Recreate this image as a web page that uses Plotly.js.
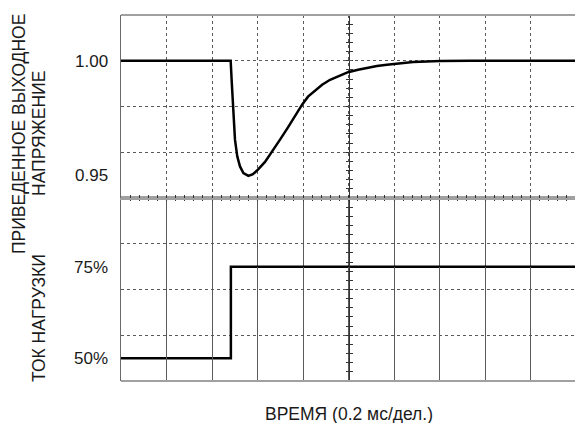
<!DOCTYPE html>
<html>
<head>
<meta charset="utf-8">
<script src="https://cdn.plot.ly/plotly-3.0.1.min.js"></script>
<style>
  html, body { margin: 0; padding: 0; overflow: hidden; background: #fff; }
  #chart { width: 576px; height: 423px; }
</style>
</head>
<body>
<div id="chart"></div>
<script>
// Time base: ms, 0.2 ms per division, 10 divisions across the screen
var timeMs = [0, 0.482, 0.487, 0.494, 0.501, 0.511, 0.523, 0.538, 0.560,
              0.580, 0.602, 0.633, 0.664, 0.699, 0.734, 0.765, 0.796, 0.822,
              0.853, 0.884, 0.919, 0.958, 0.998, 1.042, 1.081, 1.125, 1.169,
              1.226, 1.284, 1.345, 1.402, 1.534, 2.0];
// Normalised output voltage after the load step
var voltage = [1.0, 1.0, 0.9904, 0.9757, 0.9655, 0.9582, 0.9538, 0.9509, 0.9497,
               0.9504, 0.9524, 0.9558, 0.9602, 0.9655, 0.9709, 0.9760, 0.9808, 0.9843,
               0.9871, 0.9895, 0.9917, 0.9934, 0.9950, 0.9961, 0.9969, 0.9977, 0.9983,
               0.9989, 0.9994, 0.9997, 0.9999, 1.0, 1.0];

// Load current step (percent of full load)
var loadTimeMs = [0, 0.483, 2.0];
var loadCurrent = [50, 75, 75];

// Axis labels
var voltTickVals = [0.95, 1.00];
var voltTickText = ['0.95', '1.00'];
var loadTickVals = [50, 75];
var loadTickText = ['50%', '75%'];

// Graticule: 8 vertical divisions (4 per trace), 10 horizontal
var voltGrid = [0.96, 0.98, 1.00];
var loadGrid = [56.25, 68.75, 81.25];

var FONT = 'Liberation Sans, Arial, sans-serif';
var TXT = '#1a1a1a';
var GRID = '#5a5a5a';
var FRAME = '#a0a0a0';

var traces = [
  // vertical centre line carriers
  { x: [], y: [], xaxis: 'x', yaxis: 'y3', hoverinfo: 'skip' },
  { x: [], y: [], xaxis: 'x', yaxis: 'y4', hoverinfo: 'skip' },
  // signals
  { x: timeMs, y: voltage, xaxis: 'x2', yaxis: 'y', mode: 'lines',
    line: { color: '#000', width: 2.5 }, hoverinfo: 'skip' },
  { x: loadTimeMs, y: loadCurrent, xaxis: 'x', yaxis: 'y2', mode: 'lines',
    line: { color: '#000', width: 2.5, shape: 'hv' }, hoverinfo: 'skip' }
];

// time axis for one half of the screen; its line sits on the horizontal centre
function timeAxis(anchor, side) {
  return {
    anchor: anchor, side: side, range: [0, 2],
    tickmode: 'linear', tick0: 0, dtick: 0.2,
    showgrid: true, griddash: 'dot', gridcolor: GRID, gridwidth: 1,
    ticks: 'inside', ticklen: 3, tickcolor: '#333', tickwidth: 1,
    showticklabels: false, zeroline: false,
    showline: true, linecolor: FRAME, linewidth: 2,
    minor: { tick0: 0, dtick: 0.04, ticks: 'inside', ticklen: 3,
             tickcolor: '#333', tickwidth: 1, showgrid: false }
  };
}
// vertical centre line with 5 minor marks per division
function centreY(dir, over) {
  var a = { anchor: 'free', position: 0.5, domain: [0, 1],
    range: [0, 8], showline: true, linecolor: '#333', linewidth: 1.2,
    ticks: dir, ticklen: 3, tickcolor: '#333', tickwidth: 1,
    tickmode: 'linear', tick0: 0, dtick: 0.2,
    showticklabels: false, showgrid: false, zeroline: false };
  if (over) a.overlaying = over;
  return a;
}

var layout = {
  width: 576, height: 423,
  margin: { l: 121, r: 0, t: 15, b: 42 },
  paper_bgcolor: '#fff', plot_bgcolor: 'rgba(0,0,0,0)',
  showlegend: false,
  font: { family: FONT, color: TXT, size: 16 },
  xaxis: timeAxis('y2', 'top'),
  xaxis2: timeAxis('y', 'bottom'),
  yaxis: {
    domain: [0.5, 1], anchor: 'x2', range: [0.94, 1.02],
    tickmode: 'array', tickvals: voltTickVals, ticktext: voltTickText,
    ticks: '', showgrid: false, zeroline: false,
    showline: true, linecolor: '#6a6a6a', linewidth: 1.5,
    ticklabelstandoff: 8,
    tickfont: { family: FONT, size: 17, color: TXT },
    minor: { tickmode: 'array', tickvals: voltGrid, showgrid: true,
             griddash: 'dot', gridcolor: GRID, gridwidth: 1, ticks: '' }
  },
  yaxis2: {
    domain: [0, 0.5], anchor: 'x', range: [43.75, 93.75],
    tickmode: 'array', tickvals: loadTickVals, ticktext: loadTickText,
    ticks: '', showgrid: false, zeroline: false,
    showline: true, linecolor: '#6a6a6a', linewidth: 1.5,
    ticklabelstandoff: 8,
    tickfont: { family: FONT, size: 17, color: TXT },
    minor: { tickmode: 'array', tickvals: loadGrid, showgrid: true,
             griddash: 'dot', gridcolor: GRID, gridwidth: 1, ticks: '' }
  },
  yaxis3: centreY('outside'),
  yaxis4: centreY('inside', 'y3'),
  shapes: [
    { type: 'line', xref: 'paper', yref: 'paper', x0: 0, x1: 1, y0: 1, y1: 1,
      line: { color: FRAME, width: 2 } },
    { type: 'line', xref: 'paper', yref: 'paper', x0: 0, x1: 1, y0: 0, y1: 0,
      line: { color: FRAME, width: 2 } }
  ],
  annotations: [
    { text: 'ПРИВЕДЕННОЕ ВЫХОДНОЕ', xref: 'paper', yref: 'paper',
      x: (19 - 121) / 455, y: (381 - 134) / 366, textangle: -90,
      xanchor: 'center', yanchor: 'middle', showarrow: false,
      font: { family: FONT, size: 17.5, color: TXT } },
    { text: 'НАПРЯЖЕНИЕ', xref: 'paper', yref: 'paper',
      x: (39 - 121) / 455, y: (381 - 134) / 366, textangle: -90,
      xanchor: 'center', yanchor: 'middle', showarrow: false,
      font: { family: FONT, size: 17.5, color: TXT } },
    { text: 'ТОК НАГРУЗКИ', xref: 'paper', yref: 'paper',
      x: (39 - 121) / 455, y: (381 - 318) / 366, textangle: -90,
      xanchor: 'center', yanchor: 'middle', showarrow: false,
      font: { family: FONT, size: 17.5, color: TXT } },
    { text: 'ВРЕМЯ (0.2 мс/дел.)', xref: 'paper', yref: 'paper',
      x: (349 - 121) / 455, y: (381 - 414) / 366,
      xanchor: 'center', yanchor: 'middle', showarrow: false,
      font: { family: FONT, size: 17.5, color: TXT } }
  ]
};

Plotly.newPlot('chart', traces, layout, { staticPlot: true, displayModeBar: false });
</script>
</body>
</html>
